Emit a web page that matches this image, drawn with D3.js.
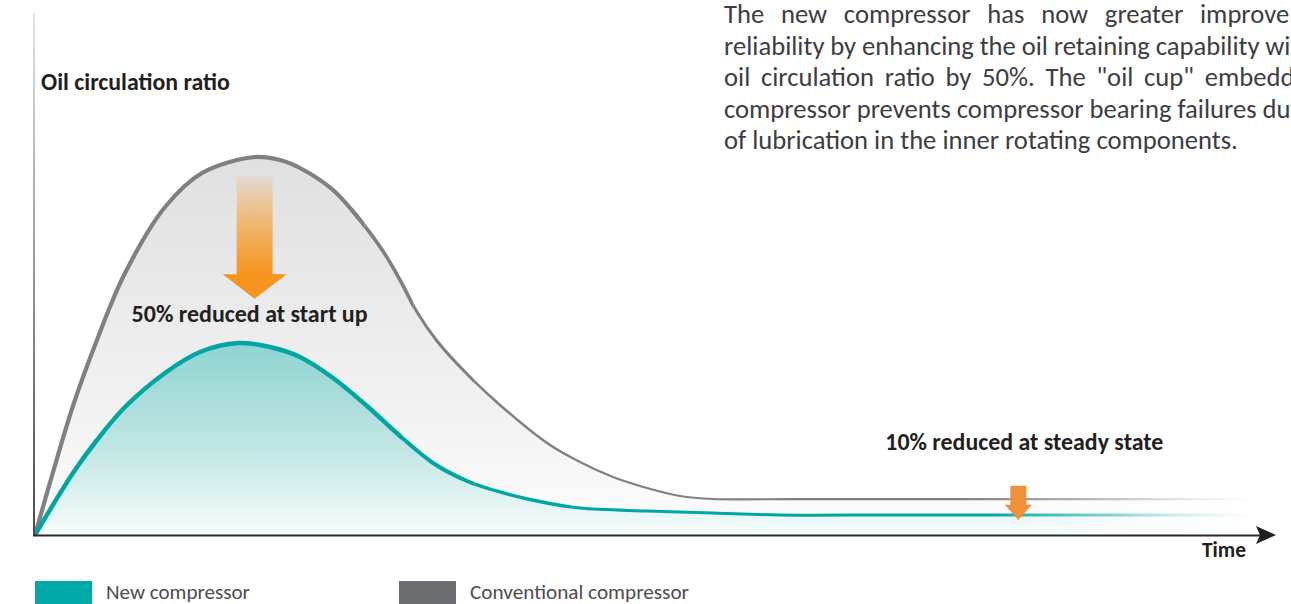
<!DOCTYPE html>
<html>
<head>
<meta charset="utf-8">
<script src="https://cdn.jsdelivr.net/npm/d3@7/dist/d3.min.js"></script>
<style>
  html, body { margin: 0; padding: 0; background: #fff; overflow: hidden; }
  svg { display: block; }
  text { font-family: Carlito, Calibri, Lato, "Open Sans", sans-serif; }
</style>
</head>
<body>
<svg id="chart" width="1291" height="604"></svg>
<script>
// ---------- DATA ----------
// time in arbitrary units (0..100), oil circulation ratio in % of conventional peak
const convTime   = [0, 1.48, 3.11, 5.08, 7.3, 10.66, 13.69, 18.03, 20.08, 21.72, 24.43, 26.64, 28.52, 29.92, 31.31, 32.95, 35.41, 38.11, 41.97, 44.67, 47.38, 50.16, 52.87, 55.57, 62, 70, 80, 90, 100];
const convValues = [0, 16.67, 34.13, 51.59, 68.78, 86.77, 95.77, 100, 99.21, 97.09, 91.27, 83.33, 75.13, 67.46, 58.99, 51.32, 42.59, 34.39, 24.34, 19.31, 15.34, 12.43, 10.32, 9.52, 9.5, 9.5, 9.5, 9.5, 9.5];
const newTime    = [0, 3.11, 5.08, 7.38, 10.66, 13.52, 16.64, 19.26, 21.72, 24.43, 27.21, 29.92, 32.62, 35.41, 38.11, 41.97, 44.67, 50.16, 55.57, 61.07, 70, 80, 90, 100];
const newValues  = [0, 16.4, 25.13, 33.86, 42.86, 48.41, 50.79, 49.74, 47.09, 41.53, 34.13, 26.19, 19.05, 14.29, 11.38, 8.47, 7.14, 6.35, 5.82, 5.29, 5.29, 5.29, 5.29, 5.29];
const seriesNames = ["New compressor", "Conventional compressor"];
const axisLabels = { y: "Oil circulation ratio", x: "Time" };
const annotations = [
  { text: "50% reduced at start up", t: 18, from: 95, to: 62.5 },
  { text: "10% reduced at steady state", t: 80.6, from: 13, to: 4 }
];
const paragraph = [
  "The new compressor has now greater improvement in",
  "reliability by enhancing the oil retaining capability with reduced",
  "oil circulation ratio by 50%. The \"oil cup\" embedded in the",
  "compressor prevents compressor bearing failures due to lack",
  "of lubrication in the inner rotating components."
];

// ---------- SETUP ----------
const svg = d3.select("#chart");
const W = 1291, H = 604;
const x = d3.scaleLinear().domain([0, 100]).range([35, 1255]);
const y = d3.scaleLinear().domain([0, 100]).range([535, 157]);

const conv = convTime.map((t, i) => ({ t, v: convValues[i] }));
const neu  = newTime.map((t, i) => ({ t, v: newValues[i] }));

const defs = svg.append("defs");
function vGrad(id, stops, y1, y2) {
  const g = defs.append("linearGradient").attr("id", id)
    .attr("gradientUnits", "userSpaceOnUse").attr("x1", 0).attr("x2", 0).attr("y1", y1).attr("y2", y2);
  stops.forEach(s => g.append("stop").attr("offset", s[0]).attr("stop-color", s[1]).attr("stop-opacity", s[2] ?? 1));
}
function hGrad(id, stops, x1, x2) {
  const g = defs.append("linearGradient").attr("id", id)
    .attr("gradientUnits", "userSpaceOnUse").attr("y1", 0).attr("y2", 0).attr("x1", x1).attr("x2", x2);
  stops.forEach(s => g.append("stop").attr("offset", s[0]).attr("stop-color", s[1]).attr("stop-opacity", s[2] ?? 1));
}
vGrad("gFillConv", [[0, "#e0e0e1"], [0.6, "#f0f0f0"], [1, "#fdfdfd"]], y(100), y(0));
vGrad("gFillNew", [[0, "#8ed3d0"], [0.55, "#c0e6e4"], [1, "#f7fcfc"]], y(51), y(0));
hGrad("gLineConv", [[0, "#7f8084"], [0.76, "#7f8084"], [0.86, "#a0a1a4", 0.8], [1, "#c8c8ca", 0]], x(0), x(100));
hGrad("gLineNew", [[0, "#00a7a2"], [0.78, "#00a7a2"], [0.88, "#4cc0bc", 0.7], [1, "#b5e3e1", 0]], x(0), x(100));
hGrad("gFade", [[0, "#fff", 0], [0.8, "#fff", 0], [1, "#fff", 1]], x(0), x(100));
vGrad("gYAxis", [[0, "#e2e2e2"], [0.3, "#b5b5b5"], [1, "#4a4a4a"]], 13, 535);
vGrad("gArrow", [[0, "#f7941d", 0.08], [0.45, "#f7941d", 0.55], [1, "#f7941d", 1]], y(95), y(69));

const curve = d3.curveCatmullRom.alpha(0.5);
const area = d3.area().x(d => x(d.t)).y0(y(0)).y1(d => y(d.v)).curve(curve);
const line = d3.line().x(d => x(d.t)).y(d => y(d.v)).curve(curve);

svg.append("path").datum(conv).attr("d", area).attr("fill", "url(#gFillConv)");
svg.append("path").datum(neu).attr("d", area).attr("fill", "url(#gFillNew)");
svg.append("rect").attr("x", x(80)).attr("y", y(12)).attr("width", x(100) - x(80) + 2).attr("height", y(0) - y(12) - 1)
  .attr("fill", "url(#gFade)");

let clipN = 0;
function taperedLine(data, widths, stroke) {
  widths.forEach(([a, b, w]) => {
    const id = "clip" + (clipN++);
    defs.append("clipPath").attr("id", id).append("rect")
      .attr("x", x(a) - (a === 0 ? 6 : 0)).attr("y", 0)
      .attr("width", x(b) - x(a) + (a === 0 ? 6 : 0)).attr("height", H);
    svg.append("path").datum(data).attr("d", line)
      .attr("fill", "none").attr("stroke", stroke).attr("stroke-width", w)
      .attr("clip-path", `url(#${id})`);
  });
}
taperedLine(conv, [[0, 27, 4.2], [27, 31, 3.6], [31, 36, 3.0], [36, 44, 2.5], [44, 100, 2.1]], "url(#gLineConv)");
taperedLine(neu, [[0, 30, 4.5], [30, 36, 4.0], [36, 44, 3.4], [44, 100, 3.0]], "url(#gLineNew)");

// ---------- AXES ----------
const yAxis = d3.axisLeft(d3.scaleLinear().domain([0, 1]).range([y(0), 13])).tickValues([]).tickSizeOuter(0);
svg.append("g").attr("transform", `translate(${x(0) - 1.5},0)`).call(yAxis)
  .select(".domain").attr("stroke", "url(#gYAxis)").attr("stroke-width", 2);
const xAxis = d3.axisBottom(d3.scaleLinear().domain([0, 1]).range([x(0) - 2.5, 1262])).tickValues([]).tickSizeOuter(0);
svg.append("g").attr("transform", `translate(0,${y(0)})`).call(xAxis)
  .select(".domain").attr("stroke", "#2b2b2b").attr("stroke-width", 2.2);
svg.append("path").attr("d", `M1256,${y(0) - 9} L1276,${y(0)} L1256,${y(0) + 9} L1260,${y(0)} Z`).attr("fill", "#231f20");

svg.append("text").attr("x", 41).attr("y", 90).attr("font-weight", 700).attr("font-size", 19)
  .attr("fill", "#231f20").text(axisLabels.y).attr("class", "fit").attr("data-w", 189);
svg.append("text").attr("x", 1202).attr("y", 557).attr("font-weight", 700).attr("font-size", 18)
  .attr("fill", "#231f20").text(axisLabels.x).attr("class", "fit").attr("data-w", 44);

// ---------- ANNOTATIONS ----------
{
  const a = annotations[0];
  const cx = x(a.t), top = y(a.from), headBase = y(69), tip = y(a.to);
  svg.append("path").attr("d", `M${cx - 18},${top} L${cx + 18},${top} L${cx + 18},${headBase} L${cx + 32},${headBase} L${cx},${tip} L${cx - 32},${headBase} L${cx - 18},${headBase} Z`)
    .attr("fill", "url(#gArrow)");
  svg.append("text").attr("x", cx - 5).attr("y", 322).attr("text-anchor", "middle").attr("font-weight", 700)
    .attr("font-size", 19).attr("fill", "#231f20").text(a.text).attr("class", "fit").attr("data-w", 236);
}
{
  const a = annotations[1];
  const cx = x(a.t), top = y(a.from), headBase = y(8), tip = y(a.to);
  svg.append("path").attr("d", `M${cx - 8},${top} L${cx + 8},${top} L${cx + 8},${headBase} L${cx + 13.5},${headBase} L${cx},${tip} L${cx - 13.5},${headBase} L${cx - 8},${headBase} Z`)
    .attr("fill", "#f0913a");
  svg.append("text").attr("x", cx + 6).attr("y", 450).attr("text-anchor", "middle").attr("font-weight", 700)
    .attr("font-size", 19).attr("fill", "#231f20").text(a.text).attr("class", "fit").attr("data-w", 278);
}

// ---------- LEGEND ----------
const legendColors = ["#00a9a5", "#6d6e71"];
const legendX = [35, 399];
seriesNames.forEach((n, i) => {
  svg.append("rect").attr("x", legendX[i]).attr("y", 581).attr("width", 57).attr("height", 25).attr("fill", legendColors[i]);
  svg.append("text").attr("x", legendX[i] + 71).attr("y", 599).attr("font-size", 18).attr("font-weight", 400)
    .attr("fill", "#4d4d4f").text(n).attr("class", "fit").attr("data-w", i === 0 ? 144 : 219);
});

svg.selectAll("text.fit").each(function () {
  const el = d3.select(this);
  const target = +el.attr("data-w");
  const fs = +el.attr("font-size");
  const w = this.getComputedTextLength();
  el.attr("font-size", (fs * target / w).toFixed(2));
});

// ---------- PARAGRAPH ----------
const pg = svg.append("g");
const px = 724, py0 = 23, lh = 31.6;
const probe = pg.append("text").attr("font-size", 20).text(paragraph[4]);
const pfs = 20 * 514 / probe.node().getComputedTextLength();
probe.remove();
function spacingFor(prefix, nSpaces, target) {
  const t = pg.append("text").attr("font-size", pfs).attr("xml:space", "preserve").text(prefix);
  const w = t.node().getComputedTextLength();
  t.remove();
  return (target - px - w) / nSpaces;
}
const ws = [
  spacingFor("The new compressor has now greater ", 6, 1200),
  -0.2,
  spacingFor("oil circulation ratio by 50%. The \"oil cup\" ", 7, 1200),
  0,
  0
];
paragraph.forEach((l, i) => {
  pg.append("text").attr("x", px).attr("y", py0 + i * lh).attr("font-size", pfs)
    .attr("word-spacing", ws[i]).attr("fill", "#3d3d3f").text(l);
});
</script>
</body>
</html>
